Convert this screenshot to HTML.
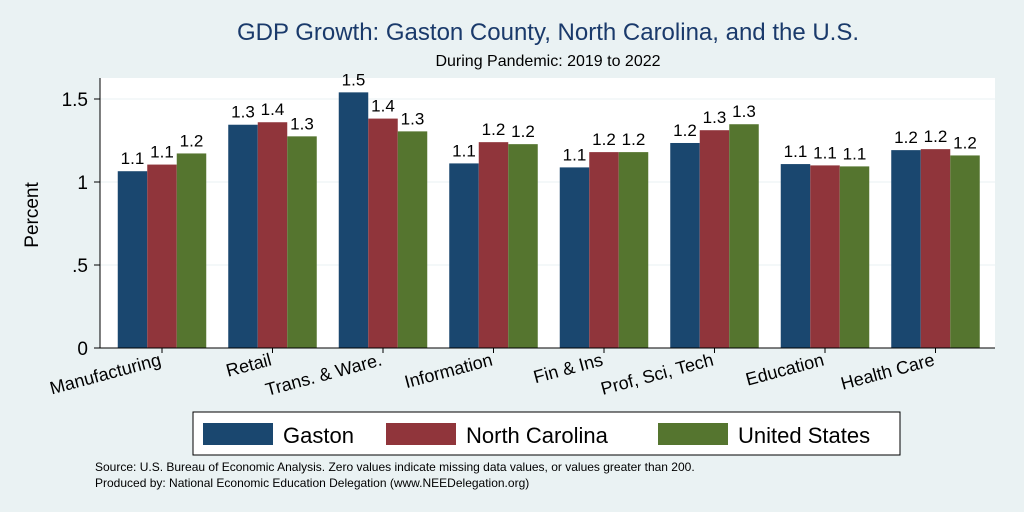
<!DOCTYPE html>
<html><head><meta charset="utf-8"><style>
body{margin:0;width:1024px;height:512px;background:#eaf2f3;font-family:"Liberation Sans",sans-serif;overflow:hidden}
svg{display:block}
</style></head><body>
<svg width="1024" height="512" id="chart" font-family="Liberation Sans, sans-serif">
<text x="548" y="40" text-anchor="middle" font-size="24" fill="#1a3a6b">GDP Growth: Gaston County, North Carolina, and the U.S.</text>
<text x="548" y="66" text-anchor="middle" font-size="16" fill="#000">During Pandemic: 2019 to 2022</text>
<rect x="100" y="78" width="895" height="270" fill="#fff"/>
<g id="grid"></g><g id="bars"></g><g id="axis"></g>
<text transform="translate(38,215) rotate(-90)" text-anchor="middle" font-size="19">Percent</text>
<g>
<rect x="193" y="412" width="707" height="43" fill="#fff" stroke="#000" stroke-width="1"/>
<g><rect x="203" y="423" width="70" height="22" fill="#1a476f"/><text x="283" y="443" font-size="22">Gaston</text></g>
<g><rect x="386" y="423" width="70" height="22" fill="#90353b"/><text x="466" y="443" font-size="22">North Carolina</text></g>
<g><rect x="658" y="423" width="70" height="22" fill="#55752f"/><text x="738" y="443" font-size="22">United States</text></g>
</g>
<text x="95" y="471" font-size="12">Source: U.S. Bureau of Economic Analysis. Zero values indicate missing data values, or values greater than 200.</text>
<text x="95" y="487" font-size="12">Produced by: National Economic Education Delegation (www.NEEDelegation.org)</text>
</svg>
<script>
const categories=["Manufacturing","Retail","Trans. & Ware.","Information","Fin & Ins","Prof, Sci, Tech","Education","Health Care"];
const gaston=[1.065,1.345,1.54,1.112,1.088,1.235,1.108,1.192];
const northCarolina=[1.105,1.36,1.382,1.24,1.18,1.312,1.1,1.198];
const unitedStates=[1.172,1.275,1.305,1.228,1.18,1.348,1.094,1.16];
const yTicks=[0,0.5,1,1.5];
const yTickLabels=["0",".5","1","1.5"];
const ns="http://www.w3.org/2000/svg";
const y=v=>348-v*166;
const gx=i=>162+i*110.5;
const BW=29.5;
function mk(t,a,p){const e=document.createElementNS(ns,t);for(const k in a)e.setAttribute(k,a[k]);p.appendChild(e);return e;}
const grid=document.getElementById('grid'),bars=document.getElementById('bars'),axis=document.getElementById('axis');
yTicks.forEach((v,i)=>{
 if(v>0){const g=mk('line',{x1:100,x2:995,y1:y(v),y2:y(v),stroke:'#eaf2f3','stroke-width':1},grid);
 
 }
 const t=mk('line',{x1:94,x2:100,y1:y(v),y2:y(v),stroke:'#000'},axis);
 
 
 const l=mk('text',{x:88,y:y(v)+7,'text-anchor':'end','font-size':19},axis);l.textContent=yTickLabels[i];
 
 
});
const al=mk('line',{x1:100,x2:100,y1:78,y2:348,stroke:'#000'},axis);


const series=[[gaston,'#1a476f','gaston'],[northCarolina,'#90353b','north-carolina'],[unitedStates,'#55752f','united-states']];
categories.forEach((c,i)=>{
 series.forEach((s,j)=>{
  const v=s[0][i];const x=gx(i)+(j-1.5)*BW;
  const r=mk('rect',{x:x,y:y(v),width:BW,height:348-y(v),fill:s[1]},bars);
  
  
  const t=mk('text',{x:x+BW/2,y:y(v)-7,'text-anchor':'middle','font-size':17},bars);t.textContent=v.toFixed(1);
  
  
 });
 const tk=mk('line',{x1:gx(i),x2:gx(i),y1:348,y2:353,stroke:'#000'},axis);
 
 
 const l=mk('text',{'text-anchor':'end','font-size':18,transform:`translate(${gx(i)},365) rotate(-15)`},axis);l.textContent=c;
 
 
});
const xl=mk('line',{x1:100,x2:995,y1:348,y2:348,stroke:'#000'},axis);


</script>
</body></html>
